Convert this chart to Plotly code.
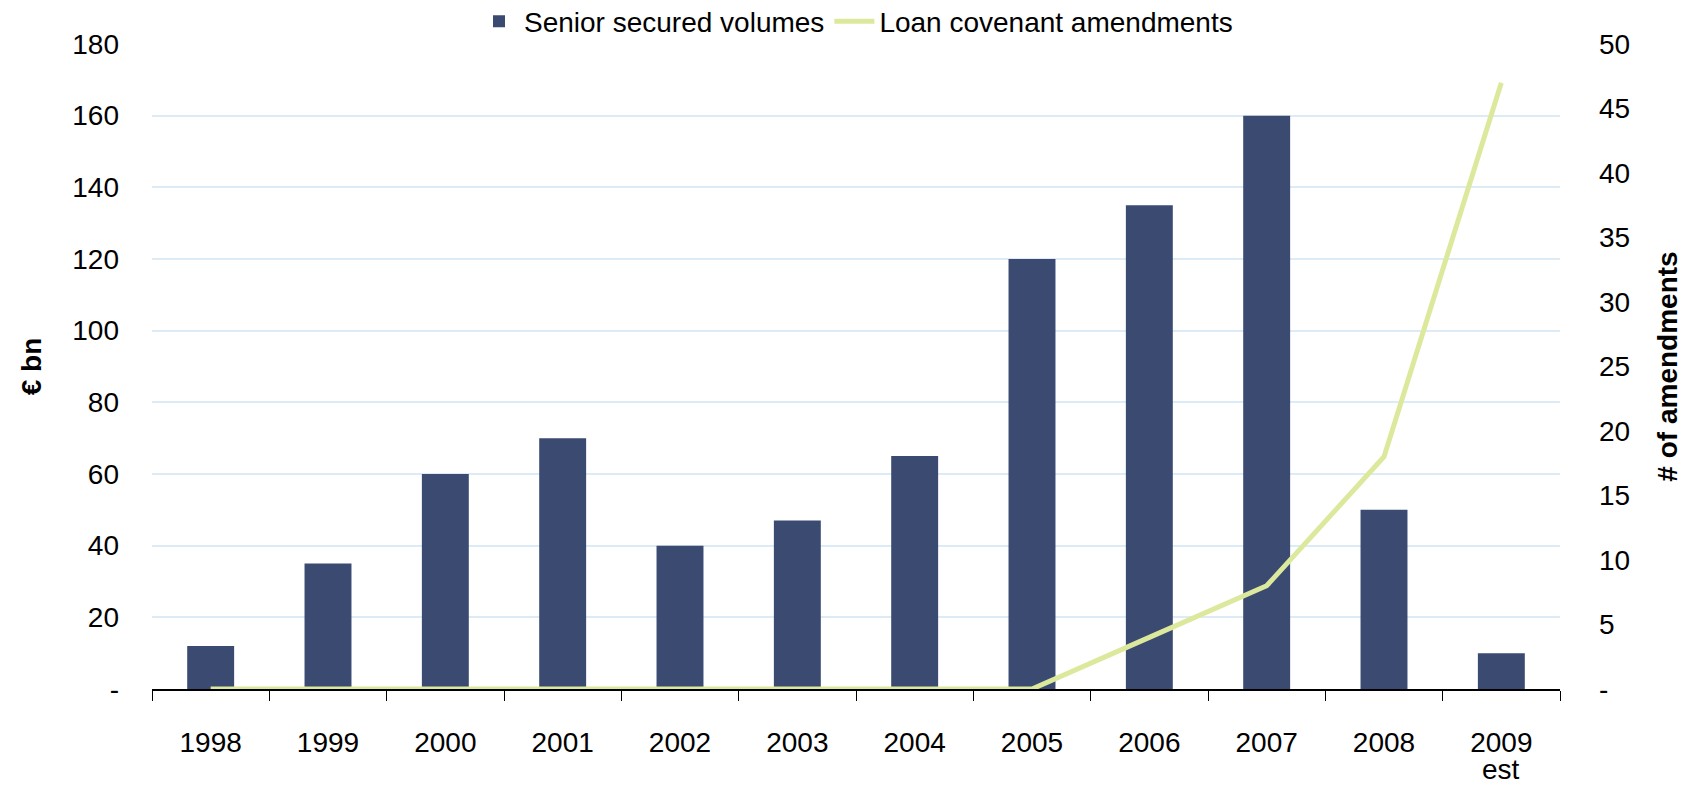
import plotly.graph_objects as go

years = ["1998", "1999", "2000", "2001", "2002", "2003", "2004", "2005", "2006", "2007", "2008", "2009"]
estimate_year = "2009"
estimate_note = "est"
senior_secured = [12, 35, 60, 70, 40, 47, 65, 120, 135, 160, 50, 10]
amendments = [0, 0, 0, 0, 0, 0, 0, 0, 4, 8, 18, 47]

left_ticks = [0, 20, 40, 60, 80, 100, 120, 140, 160, 180]
left_text = ["-"] + [str(v) for v in left_ticks[1:]]
right_ticks = [0, 5, 10, 15, 20, 25, 30, 35, 40, 45, 50]
right_text = ["-"] + [str(v) for v in right_ticks[1:]]

FONT = "Liberation Sans, Arial, sans-serif"

fig = go.Figure()
fig.add_trace(go.Bar(x=years, y=senior_secured, name="Senior secured volumes",
                     marker=dict(color="#3A4A71", line=dict(width=0)), width=0.4))
fig.add_trace(go.Scatter(x=years, y=amendments, name="Loan covenant amendments",
                         mode="lines", line=dict(color="#DCE99C", width=5), yaxis="y2"))

# category index of the estimated year on the categorical x axis
fig.add_annotation(x=years.index(estimate_year), xref="x", y=-0.125, yref="paper", yanchor="middle",
                   text=estimate_note, showarrow=False, font=dict(size=28, color="black"))

fig.update_layout(
    width=1699, height=785,
    margin=dict(l=144, r=147, t=36, b=104, autoexpand=False),
    paper_bgcolor="white", plot_bgcolor="white",
    font=dict(family=FONT, size=28, color="black"),
    showlegend=True,
    legend=dict(orientation="h", x=0.5, xanchor="center", y=1.035, yanchor="middle",
                bgcolor="white", font=dict(size=28), itemwidth=40,
                traceorder="normal", tracegroupgap=0),
    bargap=0.6,
    xaxis=dict(type="category", categoryorder="array", categoryarray=years,
               showline=True, linecolor="black", linewidth=2,
               ticks="outside", tickson="boundaries", ticklen=10, tickcolor="black", tickwidth=1,
               ticklabelstandoff=27, showgrid=False, tickfont=dict(size=28)),
    yaxis=dict(range=[0, 180], tickvals=left_ticks, ticktext=left_text,
               showgrid=True, gridcolor="#DCEBF5", gridwidth=2, zeroline=False,
               showline=False, ticks="", ticklabelstandoff=32,
               title=dict(text="<b>€ bn</b>", font=dict(size=28), standoff=22)),
    yaxis2=dict(range=[0, 50], tickvals=right_ticks, ticktext=right_text, overlaying="y",
                side="right", showgrid=False, zeroline=False, showline=False, ticks="",
                ticklabelstandoff=38,
                title=dict(text="<b># of amendments</b>", font=dict(size=28), standoff=28)),
)

fig.write_html("out.html")
